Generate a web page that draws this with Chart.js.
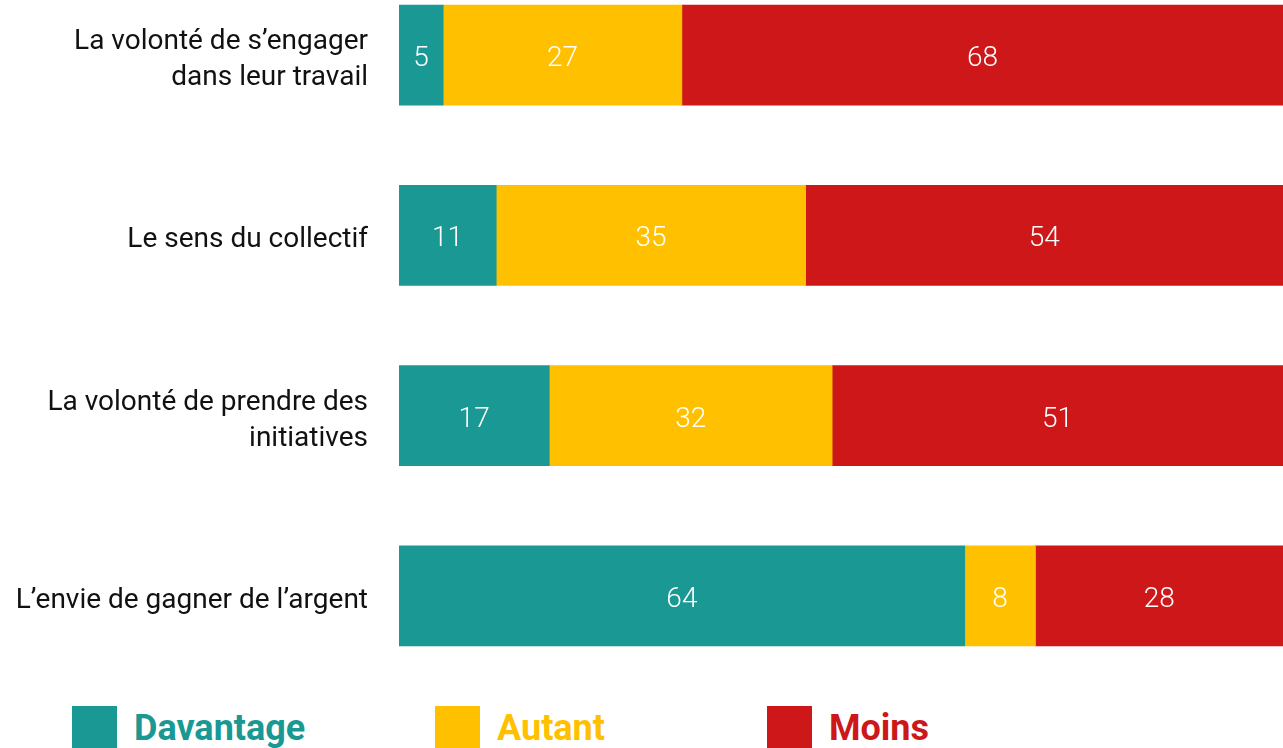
<!DOCTYPE html>
<html><head><meta charset="utf-8">
<script src="https://cdn.jsdelivr.net/npm/chart.js@4.4.0/dist/chart.umd.min.js"></script>
<style>
html,body{margin:0;padding:0;background:#fff;width:1283px;height:748px;overflow:hidden;position:relative;}
#wrap{position:absolute;left:0;top:-35px;width:1283px;height:721px;}
.leg{position:absolute;top:706px;display:flex;align-items:flex-start;font-family:Roboto,sans-serif;font-weight:bold;font-size:36px;line-height:1;}
.leg span.box{display:inline-block;width:45px;height:45px;margin-right:17px;}
.leg span.t{margin-top:4px;}
</style></head><body>
<div id="wrap"><canvas id="c"></canvas></div>
<div class="leg" style="left:72px;color:#1A9893"><span class="box" style="background:#1A9893"></span><span class="t">Davantage</span></div>
<div class="leg" style="left:435px;color:#FFC000"><span class="box" style="background:#FFC000"></span><span class="t">Autant</span></div>
<div class="leg" style="left:767px;color:#CD1719"><span class="box" style="background:#CD1719"></span><span class="t">Moins</span></div>
<script>
const categories = [
  ["La volonté de s’engager","dans leur travail"],
  "Le sens du collectif",
  ["La volonté de prendre des","initiatives"],
  "L’envie de gagner de l’argent"
];
const seriesNames = ["Davantage","Autant","Moins"];
const davantage = [5, 11, 17, 64];
const autant = [27, 35, 32, 8];
const moins = [68, 54, 51, 28];
const colors = ["#1A9893","#FFC000","#CD1719"];

const valueLabels = {
  id:'valueLabels',
  afterDatasetsDraw(chart){
    const ctx = chart.ctx;
    ctx.save();
    ctx.fillStyle = '#fff';
    ctx.font = '300 28px Roboto';
    ctx.textAlign = 'center';
    ctx.textBaseline = 'middle';
    chart.data.datasets.forEach((ds, di) => {
      chart.getDatasetMeta(di).data.forEach((bar, i) => {
        const p = bar.getCenterPoint();
        ctx.fillText(String(ds.data[i]), p.x, p.y + 4);
      });
    });
    ctx.restore();
  }
};

new Chart(document.getElementById('c'), {
  type:'bar',
  data:{
    labels: categories,
    datasets:[
      {label:seriesNames[0], data:davantage, backgroundColor:colors[0]},
      {label:seriesNames[1], data:autant, backgroundColor:colors[1]},
      {label:seriesNames[2], data:moins, backgroundColor:colors[2]}
    ]
  },
  options:{
    indexAxis:'y',
    responsive:true,
    maintainAspectRatio:false,
    animation:false,
    layout:{padding:0, autoPadding:false},
    datasets:{bar:{barThickness:100, borderWidth:0}},
    plugins:{legend:{display:false}, tooltip:{enabled:false}},
    scales:{
      x:{stacked:true, min:0, max:100, display:false},
      y:{stacked:true,
        grid:{display:false, drawTicks:false},
        border:{display:false},
        ticks:{color:'#111', padding:31, labelOffset:5, font:{family:'Roboto', size:28, lineHeight:1.29}},
        afterFit(s){ s.width = 399; s.paddingTop = 0; s.paddingBottom = 0; }
      }
    }
  },
  plugins:[valueLabels]
});
</script>
</body></html>
